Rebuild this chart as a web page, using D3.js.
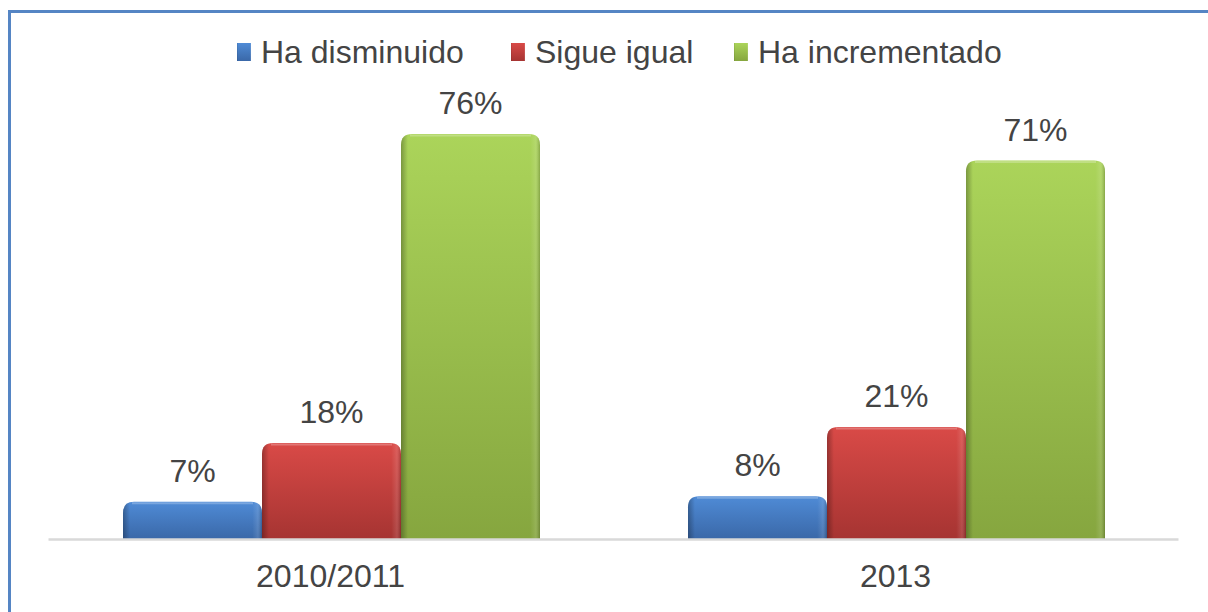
<!DOCTYPE html>
<html>
<head>
<meta charset="utf-8">
<script src="https://cdnjs.cloudflare.com/ajax/libs/d3/7.8.5/d3.min.js"></script>
<style>
  html, body { margin: 0; padding: 0; background: #fff; }
  svg { display: block; }
  text { font-family: "Liberation Sans", Arial, sans-serif; fill: #444; }
</style>
</head>
<body>
<svg width="1208" height="612"></svg>
<script>
"use strict";

var categories = ["2010/2011", "2013"];
var seriesNames = ["Ha disminuido", "Sigue igual", "Ha incrementado"];
var disminuido = [7, 8];
var igual = [18, 21];
var incrementado = [76, 71];

var seriesColors = [
	{top: "#4f8bd6", bottom: "#3a68a8", key: "blue"},
	{top: "#d94a47", bottom: "#a63432", key: "red"},
	{top: "#abd45a", bottom: "#86a63f", key: "green"}
];

var svg = d3.select("svg");
var defs = svg.append("defs");

seriesColors.forEach(function(c){
	var g = defs.append("linearGradient")
		.attr("id", "grad-" + c.key)
		.attr("x1", 0).attr("y1", 0).attr("x2", 0).attr("y2", 1);
	g.append("stop").attr("offset", "0%").attr("stop-color", c.top);
	g.append("stop").attr("offset", "100%").attr("stop-color", c.bottom);
});

// bevel shading on the bar edges
var edge = defs.append("linearGradient")
	.attr("id", "edge")
	.attr("x1", 0).attr("y1", 0).attr("x2", 1).attr("y2", 0);
edge.append("stop").attr("offset", "0%").attr("stop-color", "#000").attr("stop-opacity", 0.28);
edge.append("stop").attr("offset", "5%").attr("stop-color", "#000").attr("stop-opacity", 0.0);
edge.append("stop").attr("offset", "93%").attr("stop-color", "#fff").attr("stop-opacity", 0.0);
edge.append("stop").attr("offset", "97%").attr("stop-color", "#fff").attr("stop-opacity", 0.12);
edge.append("stop").attr("offset", "100%").attr("stop-color", "#000").attr("stop-opacity", 0.2);

// outer frame
svg.append("rect")
	.attr("x", 9.5).attr("y", 11.5)
	.attr("width", 1260).attr("height", 700)
	.attr("fill", "none")
	.attr("stroke", "#5585c4")
	.attr("stroke-width", 3);

var data = categories.map(function(c, i){
	return {cat: c, values: [disminuido[i], igual[i], incrementado[i]]};
});

var x0 = d3.scaleBand().domain(categories).range([48, 1178]).paddingInner(0).paddingOuter(0);
var x1 = d3.scaleBand().domain(d3.range(seriesNames.length))
	.range([75, x0.bandwidth() - 73]).padding(0);
var y = d3.scaleLinear().domain([0, 100]).range([539, 6]);

function topRounded(x, yTop, w, h, r){
	r = Math.min(r, h, w / 2);
	return "M" + x + "," + (yTop + h) +
		"V" + (yTop + r) +
		"Q" + x + "," + yTop + " " + (x + r) + "," + yTop +
		"H" + (x + w - r) +
		"Q" + (x + w) + "," + yTop + " " + (x + w) + "," + (yTop + r) +
		"V" + (yTop + h) + "Z";
}

var groups = svg.selectAll("g.cat")
	.data(data)
	.enter().append("g")
	.attr("class", "cat")
	.attr("transform", function(d){ return "translate(" + x0(d.cat) + ",0)"; });

var bars = groups.selectAll("g.bar")
	.data(function(d){ return d.values.map(function(v, i){ return {v: v, s: i}; }); })
	.enter().append("g")
	.attr("class", "bar");

bars.append("path")
	.attr("d", function(d){ return topRounded(x1(d.s), y(d.v), x1.bandwidth(), y(0) - y(d.v), 11); })
	.attr("fill", function(d){ return "url(#grad-" + seriesColors[d.s].key + ")"; });

bars.append("path")
	.attr("d", function(d){ return topRounded(x1(d.s), y(d.v), x1.bandwidth(), y(0) - y(d.v), 11); })
	.attr("fill", "url(#edge)");

// top highlight line
bars.append("line")
	.attr("x1", function(d){ return x1(d.s) + 9; })
	.attr("x2", function(d){ return x1(d.s) + x1.bandwidth() - 9; })
	.attr("y1", function(d){ return y(d.v) + 1.5; })
	.attr("y2", function(d){ return y(d.v) + 1.5; })
	.attr("stroke", "#fff")
	.attr("stroke-opacity", 0.25)
	.attr("stroke-width", 2);

bars.append("text")
	.attr("x", function(d){ return x1(d.s) + x1.bandwidth() / 2; })
	.attr("y", function(d){ return y(d.v) - 20; })
	.attr("text-anchor", "middle")
	.style("font-size", "32px")
	.text(function(d){ return d.v + "%"; });

// category axis
var xAxis = svg.append("g")
	.attr("transform", "translate(0," + y(0) + ")")
	.call(d3.axisBottom(x0).tickSize(0).tickPadding(25));
xAxis.select(".domain").attr("stroke", "#d9d9d9").attr("stroke-width", 2.5);
xAxis.selectAll(".tick text")
	.style("font-size", "32px")
	.attr("fill", "#444")
	.style("font-family", "'Liberation Sans', Arial, sans-serif");

// legend
var legendX = [237, 511, 734];
var legend = svg.append("g").attr("class", "legend");
seriesNames.forEach(function(name, i){
	var g = legend.append("g").attr("transform", "translate(" + legendX[i] + ",43)");
	g.append("rect")
		.attr("width", 14).attr("height", 18)
		.attr("fill", "url(#grad-" + seriesColors[i].key + ")");
	g.append("rect")
		.attr("width", 14).attr("height", 18)
		.attr("fill", "url(#edge)");
	g.append("text")
		.attr("x", 24).attr("y", 20)
		.style("font-size", "32px")
		.text(name);
});
</script>
</body>
</html>
